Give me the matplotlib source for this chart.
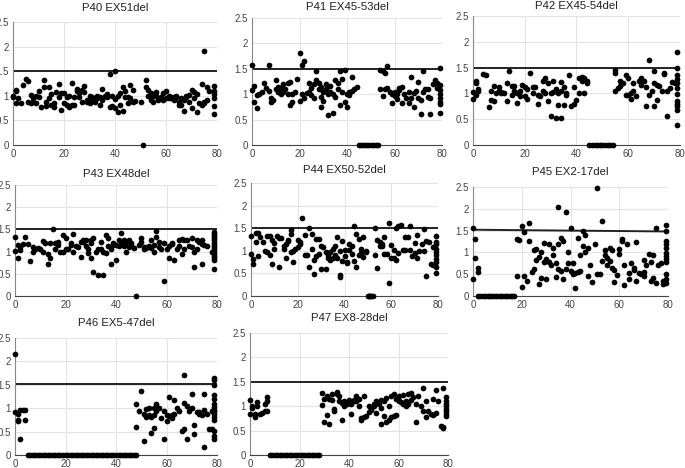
import matplotlib
matplotlib.use("Agg")
import matplotlib.pyplot as plt

plt.rcParams["font.family"] = ["Liberation Sans", "DejaVu Sans"]

# ratio per exon; deleted exons listed separately (ratio 0)
p40 = {0: [0.97, 1.0], 1: [1.1, 0.85, 1.12], 2: [0.95], 3: [0.85], 4: [1.22], 5: [1.35],
       6: [1.3, 0.87], 7: [1.02, 0.85], 8: [0.95, 0.87], 9: [0.85, 1.0], 10: [1.1, 0.97],
       11: [0.78], 12: [1.33, 1.17], 13: [0.8, 0.88], 14: [1.17, 0.95], 15: [1.03, 0.82],
       16: [0.85, 0.78], 17: [1.07], 18: [1.25, 0.98], 19: [0.72, 1.05], 20: [1.05, 0.85],
       21: [0.82, 0.97], 22: [0.78, 1.0], 23: [1.27, 0.82], 24: [0.97, 0.82], 25: [1.1, 1.13],
       26: [1.05, 0.97], 27: [1.12, 0.88], 28: [1.2, 1.07], 29: [0.92, 0.87], 30: [1.0, 0.85],
       31: [0.97, 0.9], 32: [0.92, 0.87], 33: [1.0, 0.95], 34: [0.82, 0.97], 35: [1.13, 0.92],
       36: [1.0], 37: [0.97, 1.03], 38: [1.45, 0.77], 39: [0.8, 1.0], 40: [1.5, 0.93, 0.75],
       41: [1.0, 0.68], 42: [1.05, 0.82], 43: [1.18, 0.7], 44: [0.97, 1.1], 45: [0.85, 0.98],
       46: [1.22, 0.95], 47: [1.12, 0.88], 48: [0.9], 50: [0.88], 52: [1.33, 1.17],
       53: [1.12, 1.0], 54: [0.92, 1.05], 55: [1.0, 0.87], 56: [1.07, 1.0], 57: [0.92, 0.95],
       58: [0.97], 59: [0.92, 1.05], 60: [1.1, 0.95], 61: [0.95, 1.0], 62: [0.95, 0.97],
       63: [0.92, 0.97], 64: [0.97, 1.0], 65: [0.87, 0.82], 66: [0.82, 0.95], 67: [0.92, 0.7],
       68: [0.97, 1.0], 69: [0.87, 1.02], 70: [1.12, 0.75], 71: [1.07, 0.95], 72: [0.68, 1.03],
       73: [0.85], 74: [0.82, 1.23], 75: [1.92, 0.87, 0.85], 76: [0.92, 1.18], 77: [1.1],
       79: [1.2, 1.1, 1.03, 0.95, 0.8, 0.63]}
p40_del = [51]

p41 = {0: [1.57, 1.08], 1: [0.85, 1.17], 2: [0.72, 0.98], 3: [1.0], 4: [1.05], 5: [1.23],
       6: [1.12], 7: [1.58, 1.07], 8: [0.85, 0.92], 9: [0.88], 10: [1.27, 1.1], 11: [1.05, 1.15],
       12: [1.0, 1.12], 13: [1.2, 1.05], 14: [1.1], 15: [1.0, 1.22], 16: [0.78, 1.25],
       17: [0.85, 1.0], 18: [1.05], 19: [1.3], 20: [1.82, 0.87], 21: [1.57, 1.0],
       22: [0.92, 1.65], 23: [1.03], 24: [1.22, 1.05], 25: [0.98, 1.12], 26: [0.93, 1.2],
       27: [1.27, 1.45], 28: [1.23, 1.1], 29: [0.75, 0.95, 1.15], 30: [0.87, 1.05],
       31: [1.2, 1.1], 32: [0.6, 1.0], 33: [1.05, 1.17], 34: [0.63, 1.0], 35: [1.27, 0.95],
       36: [1.1, 1.22], 37: [1.45, 0.78], 38: [1.3, 1.05], 39: [1.47, 0.85], 40: [0.75, 1.0],
       41: [0.98, 1.05], 42: [1.33, 1.07], 43: [1.1], 44: [1.15],
       54: [1.47, 1.1], 55: [1.45, 0.97], 56: [1.42, 1.1], 57: [1.55, 1.12], 58: [1.05],
       59: [0.82, 1.0], 60: [1.05, 0.97], 61: [1.0, 0.9], 62: [1.12, 1.08], 63: [1.15, 0.82],
       64: [1.0], 65: [0.93], 66: [0.82, 1.05], 67: [1.33, 0.92], 68: [0.75, 1.02], 69: [1.07],
       70: [1.25, 0.92], 71: [0.62, 0.88], 72: [1.45, 1.05], 73: [1.1], 74: [1.1, 0.95],
       75: [0.62, 0.92], 76: [1.2], 77: [1.27], 78: [1.22, 1.12],
       79: [1.52, 1.18, 1.08, 1.0, 0.93, 0.85, 0.8, 0.63]}
p41_del = list(range(45, 54))

p42 = {0: [0.9, 1.03], 1: [1.25, 0.97, 1.2], 2: [1.08, 1.05], 4: [1.38], 5: [1.35], 6: [0.73],
       7: [1.05, 0.87], 8: [1.15, 0.85], 9: [1.0], 10: [1.12, 1.05], 11: [1.02, 1.0], 12: [1.0],
       13: [1.2, 0.85], 14: [1.43], 15: [0.97, 1.15], 16: [1.05, 1.15], 17: [1.0, 0.82],
       18: [1.05, 0.95], 19: [1.17], 20: [1.12, 0.95], 21: [0.9, 1.08], 22: [1.4], 23: [1.12, 1.0],
       24: [1.12], 25: [0.8, 0.97], 26: [0.95], 27: [1.25, 1.05], 28: [1.3, 1.0], 29: [0.85, 1.2],
       30: [0.57, 1.0], 31: [1.25, 1.02], 32: [0.53, 1.08], 33: [0.77, 1.0], 34: [1.23, 0.53, 1.05],
       35: [0.77, 1.12], 36: [0.97, 1.0], 37: [1.35], 38: [0.75], 39: [1.12, 0.8], 40: [0.87],
       41: [1.3, 1.0], 42: [1.32, 1.25], 43: [1.3, 1.0], 44: [1.25, 1.2],
       55: [1.4, 1.45, 1.05], 56: [1.1], 57: [1.25, 1.15], 58: [1.2], 59: [0.97, 1.35],
       60: [1.3, 0.97], 61: [0.9, 1.0], 62: [1.05, 1.2], 63: [0.95], 64: [1.25], 65: [1.3, 1.17],
       66: [1.25], 67: [0.75, 1.12], 68: [1.65, 0.97], 69: [1.05], 70: [1.2, 0.75, 1.43],
       71: [0.87, 1.17], 72: [1.15], 73: [1.05], 74: [1.4, 1.38], 75: [0.56, 1.05], 76: [1.1],
       77: [1.22], 78: [1.2],
       79: [1.8, 1.5, 1.35, 1.28, 1.2, 1.1, 0.98, 0.85, 0.8, 0.75, 0.68, 0.38]}
p42_del = list(range(45, 55))

p43 = {0: [1.32, 1.02], 1: [0.85, 1.15], 2: [1.03, 1.1], 3: [1.17], 4: [1.32], 5: [1.17],
       6: [0.78], 7: [1.0, 1.1], 8: [1.05], 9: [1.07], 10: [1.05], 11: [1.23, 1.0], 12: [1.2],
       13: [0.72, 0.95], 14: [0.85, 1.2], 15: [1.5], 16: [1.2, 1.05], 17: [1.15, 1.22], 18: [1.0],
       19: [1.37, 1.0], 20: [1.05, 1.3], 21: [1.05], 22: [1.2, 1.15], 23: [1.0, 1.4], 24: [1.13],
       25: [1.1], 26: [0.87, 1.22], 27: [1.25, 1.22], 28: [1.12, 1.27], 29: [1.05, 0.97],
       30: [0.85, 1.25, 1.2], 31: [0.55, 1.3], 32: [1.0], 33: [0.47, 1.05], 34: [1.22, 1.05],
       35: [0.48, 1.0], 36: [1.37, 0.97], 37: [1.3, 1.12], 38: [0.72, 1.05], 39: [1.15, 1.2],
       40: [0.8, 1.15], 41: [1.12, 1.25], 42: [1.42, 1.17], 43: [1.13, 1.25], 44: [1.2, 1.0],
       45: [1.27, 1.1], 46: [1.2, 1.15], 47: [1.07], 49: [1.15], 50: [1.3, 1.22], 51: [1.1, 1.05],
       52: [1.1, 1.07], 53: [1.12], 54: [1.08, 1.27], 55: [1.0, 1.15], 56: [1.47, 1.33],
       57: [1.22, 1.1], 58: [1.05], 59: [1.2, 0.33], 60: [1.05], 61: [0.85, 1.12], 62: [1.2, 1.17],
       63: [0.8], 64: [1.05], 65: [1.12, 1.25], 66: [1.28, 0.95], 67: [1.25, 1.05], 68: [1.25],
       69: [1.12], 70: [1.3, 1.1], 71: [0.65, 1.0], 72: [1.27, 1.05], 73: [1.22],
       74: [1.27, 1.17, 0.72], 75: [1.15], 76: [1.13], 78: [1.0],
       79: [1.45, 1.4, 1.35, 1.3, 1.25, 1.2, 1.15, 1.1, 1.05, 1.0, 0.95, 0.9, 0.85, 0.8, 0.6]}
p43_del = [48]

p44 = {0: [1.33, 0.93], 1: [0.7, 0.82], 2: [1.2, 1.4], 3: [1.4, 0.88], 4: [1.3], 5: [1.2],
       6: [1.0], 7: [1.32, 0.97], 8: [1.32, 0.9], 9: [0.7, 1.25], 10: [1.17, 1.05], 11: [1.32],
       12: [0.65, 1.28], 13: [1.28], 14: [1.05, 1.1], 15: [1.15, 0.85], 16: [1.25, 1.22],
       17: [1.38, 1.45, 0.97], 18: [1.0, 0.75], 19: [1.05], 20: [1.08, 1.25], 21: [1.2, 1.15],
       22: [1.72], 23: [0.9, 1.35], 24: [0.9], 25: [1.5, 0.65], 26: [1.03, 1.38], 27: [0.48, 0.8],
       28: [1.27, 0.88], 29: [1.27, 0.93], 30: [1.1, 0.6], 31: [1.08], 32: [0.6, 0.97],
       33: [0.9, 0.85], 34: [0.97, 0.8], 35: [1.05, 0.85], 36: [1.1, 0.9], 37: [1.3, 0.83],
       38: [0.47, 0.42, 1.0], 39: [1.22, 0.78], 40: [1.02, 0.88], 41: [0.72, 0.75],
       42: [1.15, 1.02], 43: [0.92, 1.1], 44: [1.55, 0.78], 45: [1.38, 0.65], 46: [1.27, 0.9],
       47: [1.03, 0.95], 48: [1.3, 0.87], 49: [0.97, 1.0],
       53: [1.5, 0.9], 54: [0.62, 1.25], 55: [1.2, 1.1], 56: [1.15, 1.1], 57: [1.3, 0.92],
       58: [0.93], 59: [1.62, 0.28], 60: [1.13, 0.85], 61: [1.02, 0.85], 62: [0.8, 1.5],
       63: [1.55, 0.95], 64: [1.57], 65: [1.02], 66: [1.3, 1.02], 67: [1.3], 68: [1.55, 1.02],
       69: [0.88], 70: [1.18, 0.95], 71: [1.35, 0.85], 72: [1.0], 73: [1.15], 74: [1.48, 1.0],
       75: [0.45, 1.22], 76: [1.2], 77: [0.7], 78: [1.08, 0.68],
       79: [1.33, 1.2, 1.15, 1.05, 0.97, 0.9, 0.82, 0.75, 0.65, 0.5]}
p44_del = [50, 50.5, 51, 51.5, 52]

p45 = {0: [1.57, 0.38], 1: [1.3, 0.88], 2: [0.65, 0.55], 18: [0.45, 1.3], 19: [1.28],
       20: [0.2, 1.6], 21: [1.47, 0.47], 22: [0.35], 23: [1.67, 1.25], 24: [0.55],
       25: [1.05, 0.62], 26: [1.08, 0.82], 27: [0.28, 0.9], 28: [0.42, 1.0], 29: [1.22, 0.78],
       30: [0.85, 0.38, 0.8], 31: [0.78, 1.2], 32: [0.72], 33: [0.95, 1.1], 34: [0.43, 0.75],
       35: [0.62, 1.2, 2.05], 36: [0.58, 1.32], 37: [0.38, 1.25], 38: [1.92, 0.62],
       39: [1.0, 0.75], 40: [1.55, 0.58], 41: [0.5, 0.75], 42: [0.18, 0.52], 43: [1.32, 0.55],
       44: [0.58, 0.95], 45: [1.48, 1.15], 46: [1.4, 1.0], 47: [0.45, 1.1], 48: [0.7],
       49: [0.32], 50: [1.2], 51: [2.48, 0.5], 52: [0.5], 53: [1.72, 0.8], 54: [1.05, 0.95],
       55: [0.88, 0.7], 56: [0.8, 1.1], 57: [0.65, 1.05], 58: [0.33, 0.6], 59: [0.48],
       60: [1.08, 0.97], 61: [1.3, 1.25], 62: [0.7, 0.25], 63: [1.2], 64: [0.38, 0.52],
       65: [0.75], 66: [0.65, 0.6], 67: [1.23, 0.35], 68: [0.52], 69: [0.5],
       70: [0.83, 0.55, 0.45], 71: [0.72], 72: [0.97], 73: [0.77, 0.35], 74: [0.93, 0.42],
       75: [1.55, 0.3], 76: [0.72], 77: [0.75], 78: [0.28, 0.35],
       79: [1.62, 1.48, 1.25, 1.2, 1.1, 0.98, 0.92, 0.85, 0.78, 0.5, 0.4, 0.3]}
p45_del = list(range(2, 18))

p46 = {0: [2.15, 0.92], 1: [0.75, 0.72, 0.88], 2: [0.35, 0.97], 3: [0.97], 4: [0.97, 0.75],
       48: [1.08, 0.6], 49: [0.95], 50: [1.37], 51: [0.3, 0.88], 52: [0.98, 0.82],
       53: [0.85, 1.0], 54: [0.82, 0.47], 55: [0.85, 0.57, 1.0], 56: [1.1, 0.95], 57: [1.0],
       58: [0.78], 59: [0.35, 0.95], 60: [0.72, 0.85], 61: [1.25, 0.83], 62: [0.78, 0.85],
       63: [1.17, 0.88], 64: [1.0], 65: [0.95], 66: [0.52], 67: [0.55, 1.72, 1.12],
       68: [1.05, 0.35], 69: [0.93], 70: [1.3, 1.0], 71: [0.45, 0.65], 72: [0.92],
       73: [0.92, 0.88], 74: [0.85], 75: [1.3, 0.97, 0.18], 76: [0.87], 77: [0.55],
       78: [0.93, 0.55],
       79: [1.65, 1.6, 1.5, 1.28, 1.2, 1.1, 1.02, 0.97, 0.93, 0.88, 0.82, 0.75, 0.52, 0.4, 0.35]}
p46_del = list(range(5, 49))

p47 = {0: [1.12, 0.83], 1: [1.0, 0.97], 2: [0.85, 0.78], 3: [1.08, 1.0], 4: [0.83], 5: [0.87],
       6: [1.05, 0.9], 7: [1.18, 1.1, 0.9], 29: [1.28, 1.02], 30: [1.15, 0.67], 31: [0.82, 1.2],
       32: [0.63, 1.15], 33: [1.25, 1.12], 34: [0.9, 0.95], 35: [1.3, 1.25], 36: [1.1, 1.2],
       37: [0.72, 1.07], 38: [1.0, 1.1], 39: [1.08, 1.05], 40: [1.13], 41: [1.05, 0.85],
       42: [1.1, 1.12], 43: [1.1, 1.2], 44: [1.0, 1.15], 45: [0.72, 0.75], 46: [0.78, 1.2],
       47: [0.8], 48: [0.88, 1.0], 49: [0.95, 0.92], 50: [1.0, 1.05], 51: [0.87, 1.1],
       52: [1.05], 53: [0.63, 1.13, 0.97], 54: [0.8, 1.1], 55: [0.68, 1.17], 56: [0.72, 1.0],
       57: [0.78, 1.2], 58: [1.25, 0.8], 59: [1.15, 0.82], 60: [1.1, 1.2], 61: [1.08],
       62: [1.05, 1.22], 63: [1.1, 1.0], 64: [1.25, 1.05], 65: [1.27, 1.12], 66: [1.18],
       67: [0.68, 1.05], 68: [1.2], 69: [1.0], 70: [1.37, 0.9], 71: [0.77, 1.1], 72: [0.9],
       73: [0.85], 74: [1.15, 0.82], 75: [1.33, 0.87], 76: [1.1], 77: [0.6],
       78: [1.37, 0.58, 0.55], 79: [1.18, 1.1, 1.05, 1.0, 0.95, 0.9, 0.85, 0.8]}
p47_del = list(range(8, 29))

titles = ["P40 EX51del", "P41 EX45-53del", "P42 EX45-54del", "P43 EX48del",
          "P44 EX50-52del", "P45 EX2-17del", "P46 EX5-47del", "P47 EX8-28del"]
panels = [p40, p41, p42, p43, p44, p45, p46, p47]
deletions = [p40_del, p41_del, p42_del, p43_del, p44_del, p45_del, p46_del, p47_del]
# threshold line value at x=0 and x=80
thresh_start = [1.5, 1.5, 1.5, 1.52, 1.5, 1.52, 1.52, 1.5]
thresh_end = [1.5, 1.5, 1.5, 1.52, 1.5, 1.48, 1.52, 1.5]

# axes boxes in pixels: left, right, top, bottom; title centre height in pixels
boxes = [(13, 217, 22, 145), (252, 442, 18, 145), (473, 680, 16, 145),
         (15, 217, 185, 296), (251, 438, 183, 296), (473, 668, 187, 296),
         (15, 217, 338, 455), (250, 448, 333, 455)]
title_y = [8, 7, 6, 174, 170, 172, 323, 318]

W, H = 685, 468
fig = plt.figure(figsize=(W / 100, H / 100), dpi=100)

for i, data in enumerate(panels):
    l, r, t, b = boxes[i]
    ax = fig.add_axes([l / W, 1 - b / H, (r - l) / W, (b - t) / H])

    xs, ys = [], []
    for exon, vals in data.items():
        for v in vals:
            xs.append(exon)
            ys.append(v)
    ax.scatter(xs, ys, s=17, color="black", linewidths=0, clip_on=False, zorder=3)
    ax.scatter(deletions[i], [0] * len(deletions[i]), s=17, color="black",
               linewidths=0, clip_on=False, zorder=3)
    ax.plot([0, 80], [thresh_start[i], thresh_end[i]], color="#222222", lw=1.4, zorder=2)

    ax.set_xlim(0, 80)
    ax.set_ylim(0, 2.5)
    ax.set_xticks([0, 20, 40, 60, 80])
    ax.set_yticks([0, 0.5, 1, 1.5, 2, 2.5])
    ax.set_yticklabels(["0", "0.5", "1", "1.5", "2", "2.5"])
    ax.grid(True, color="#e4e4e4", lw=0.8)
    ax.set_axisbelow(True)
    for side in ["top", "right"]:
        ax.spines[side].set_visible(False)
    ax.spines["left"].set_color("#888888")
    ax.spines["bottom"].set_color("#444444")
    ax.spines["left"].set_linewidth(0.8)
    ax.spines["bottom"].set_linewidth(0.8)
    ax.tick_params(length=0, labelsize=7, labelcolor="#444444", pad=3)

    fig.text((l + r) / 2 / W, 1 - title_y[i] / H, titles[i], fontsize=8.2,
             color="#222222", ha="center", va="center")

fig.savefig("out.png", dpi=100)
